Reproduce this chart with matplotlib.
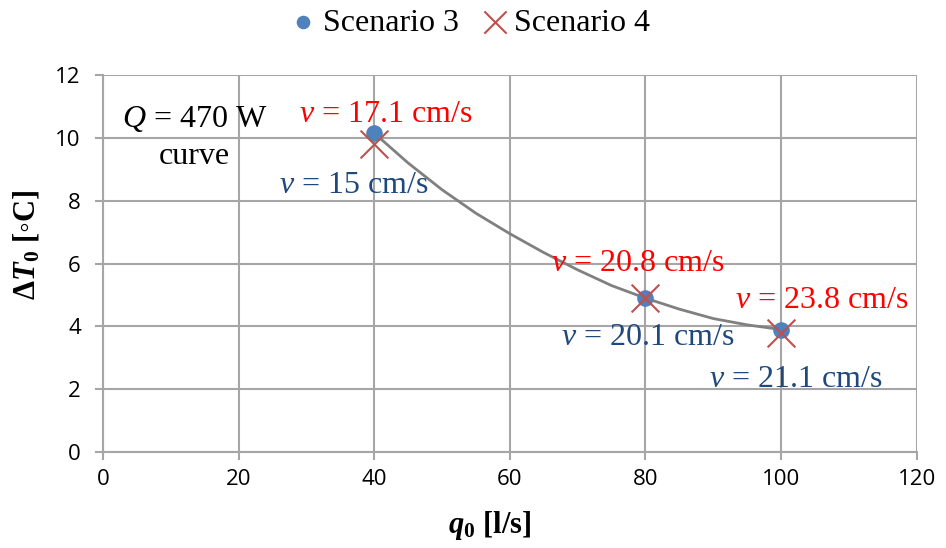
import matplotlib.pyplot as plt

plt.rcParams['font.family'] = 'Open Sans'
plt.rcParams['mathtext.fontset'] = 'custom'
plt.rcParams['mathtext.rm'] = 'Liberation Serif'
plt.rcParams['mathtext.it'] = 'Liberation Serif:italic'
plt.rcParams['mathtext.bf'] = 'Liberation Serif:bold'
plt.rcParams['mathtext.bfit'] = 'Liberation Serif:bold:italic'

# datos
q_s3 = [40, 80, 100]
dT_s3 = [10.15, 4.9, 3.9]
q_s4 = [40, 80, 100]
dT_s4 = [9.8, 4.9, 3.8]

q_curve = [40, 45, 50, 55, 60, 65, 70, 75, 80, 85, 90, 95, 100]
dT_curve = [10.15, 9.2, 8.35, 7.6, 6.95, 6.35, 5.8, 5.3, 4.9, 4.55, 4.25, 4.05, 3.9]

labels_s4 = ['17.1', '20.8', '23.8']
labels_s3 = ['15', '20.1', '21.1']
pos_s4 = [(41.7, 10.73), (78.9, 5.99), (106, 4.81)]
pos_s3 = [(36.9, 8.47), (80.3, 3.66), (102.2, 2.32)]

serif = ['Liberation Serif', 'DejaVu Serif']

fig = plt.figure(figsize=(9.46, 5.48), dpi=100)
ax = fig.add_axes([0.109, 0.175, 0.86, 0.688])

grid_c = '#A6A6A6'
ax.plot(q_curve, dT_curve, color='#808080', lw=2, zorder=3)
ax.scatter(q_s3, dT_s3, s=120, color='#4F81BD', zorder=4, label='Scenario 3')
ax.scatter(q_s4, dT_s4, s=400, marker='x', color='#C0504D', linewidths=1.5,
           zorder=5, label='Scenario 4')

for lab, (x, y) in zip(labels_s4, pos_s4):
    ax.text(x, y, r'$v$ = ' + lab + ' cm/s', color='#FF0000', fontsize=23,
            family=serif, ha='center', va='center', zorder=6)
for lab, (x, y) in zip(labels_s3, pos_s3):
    ax.text(x, y, r'$v$ = ' + lab + ' cm/s', color='#1F497D', fontsize=23,
            family=serif, ha='center', va='center', zorder=6)

ax.text(13.5, 10.6, r'$Q$ = 470 W', fontsize=23, family=serif,
        ha='center', va='center')
ax.text(13.5, 9.4, 'curve', fontsize=23, family=serif,
        ha='center', va='center')

ax.set_xlim(0, 120)
ax.set_ylim(0, 12)
ax.set_xticks(range(0, 121, 20))
ax.set_yticks(range(0, 13, 2))
ax.grid(True, color=grid_c, lw=1.5)
ax.set_axisbelow(True)
for s in ['top', 'right']:
    ax.spines[s].set_visible(False)
for s in ['left', 'bottom']:
    ax.spines[s].set_color(grid_c)
    ax.spines[s].set_linewidth(1.5)
ax.tick_params(axis='y', colors=grid_c, labelcolor='black', labelsize=16,
               width=1.5, length=6, direction='out', pad=10)
ax.tick_params(axis='x', colors=grid_c, labelcolor='black', labelsize=16,
               width=1.5, length=6, direction='out', pad=6)

ax.set_xlabel(r'$\mathbfit{q}_\mathbf{0}$ [l/s]', fontsize=22,
              family=serif, fontweight='bold')
ax.xaxis.set_label_coords(0.475, -0.15)
ax.set_ylabel(r'Δ$\mathbfit{T}_\mathbf{0}$ [◦C]', fontsize=22,
              family=serif, fontweight='bold')
ax.yaxis.set_label_coords(-0.076, 0.55)

fig.legend(loc='upper center', bbox_to_anchor=(0.494, 1.037), ncol=2, frameon=False,
           prop={'family': serif, 'size': 23}, handletextpad=0.0,
           columnspacing=0.55, handlelength=1.2, markerscale=0.8)

fig.savefig('out.png', dpi=100)
